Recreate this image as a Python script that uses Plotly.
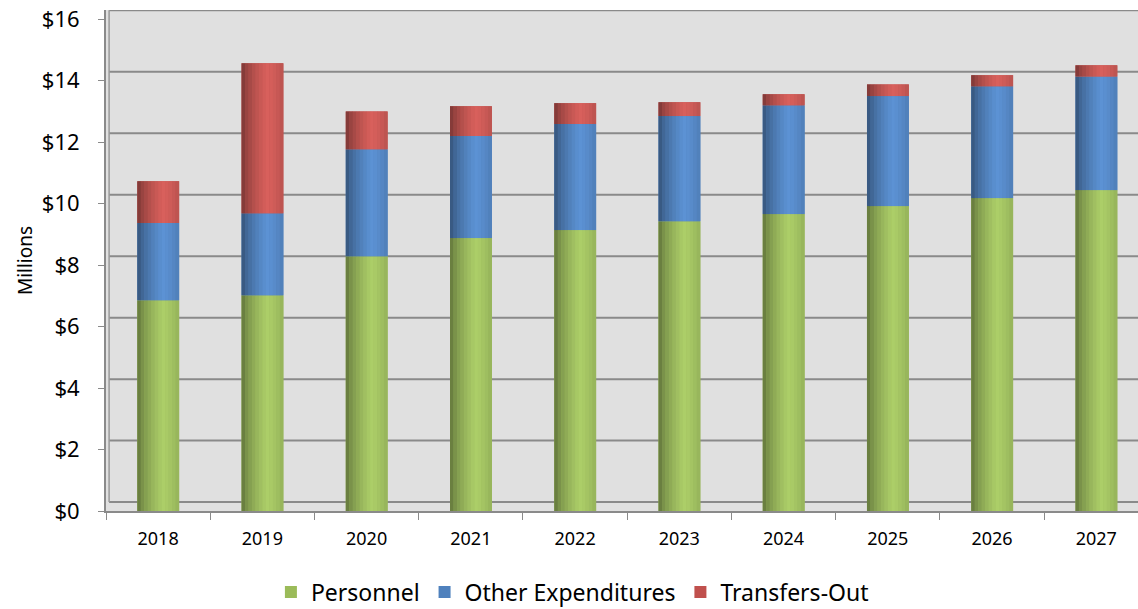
import plotly.graph_objects as go

years = ["2018", "2019", "2020", "2021", "2022", "2023", "2024", "2025", "2026", "2027"]
personnel = [6.86, 7.02, 8.29, 8.88, 9.14, 9.43, 9.66, 9.92, 10.18, 10.44]
other_exp = [2.51, 2.67, 3.48, 3.32, 3.45, 3.42, 3.54, 3.58, 3.64, 3.70]
transfers = [1.36, 4.88, 1.23, 0.97, 0.68, 0.45, 0.36, 0.38, 0.36, 0.36]
y_ticks = [0, 2, 4, 6, 8, 10, 12, 14, 16]

FONT = "Noto Sans"
BAR_W = 0.4
N_STRIPES = 12

# series: name, values, legend colour, highlight rgb
series = [
    ("Personnel", personnel, "#9BBB59", (172, 206, 104)),
    ("Other Expenditures", other_exp, "#4F81BD", (92, 146, 212)),
    ("Transfers-Out", transfers, "#C0504D", (216, 96, 92)),
]

# stacking bases computed from the series values
bases = []
running = [0.0] * len(years)
for _, vals, _, _ in series:
    bases.append(list(running))
    running = [r + v for r, v in zip(running, vals)]


def shade(t):
    # cylinder lighting profile across the bar (0 = left edge, 1 = right edge)
    if t < 0.6:
        return 0.52 + 0.48 * (t / 0.6) ** 0.6
    return 1.0 - 0.14 * ((t - 0.6) / 0.4) ** 1.5


fig = go.Figure()
for (name, vals, col, hi), base in zip(series, bases):
    fig.add_trace(go.Bar(x=years, y=vals, base=base, name=name, width=BAR_W,
                         offset=-BAR_W / 2, marker=dict(color=col, line=dict(width=0)),
                         legendgroup=name, showlegend=True))
    sw = BAR_W / N_STRIPES
    for i in range(N_STRIPES):
        t = (i + 0.5) / N_STRIPES
        f = shade(t)
        c = "rgb(%d,%d,%d)" % tuple(min(255, int(round(ch * f))) for ch in hi)
        fig.add_trace(go.Bar(x=years, y=vals, base=base, width=sw * 1.08,
                             offset=-BAR_W / 2 + i * sw,
                             marker=dict(color=c, line=dict(width=0)),
                             legendgroup=name, showlegend=False, hoverinfo="skip"))

# back-wall gridlines (3D offset look)
shapes = []
for t in y_ticks:
    shapes.append(dict(type="line", xref="paper", yref="y", x0=0.003, x1=1,
                       y0=t + 0.29, y1=t + 0.29,
                       line=dict(color="#8a8a8a", width=2), layer="below"))
shapes.append(dict(type="line", xref="paper", yref="y", x0=0.003, x1=0.003,
                   y0=0.29, y1=16.29, line=dict(color="#9a9a9a", width=1.5), layer="below"))

fig.update_layout(
    barmode="overlay",
    width=1138, height=609,
    margin=dict(l=106, r=0, t=10, b=98),
    paper_bgcolor="white",
    plot_bgcolor="#e0e0e0",
    font=dict(family=FONT, color="#000000"),
    shapes=shapes,
    legend=dict(orientation="h", xref="container", yref="container",
                x=0.503, xanchor="center", y=0.028, yanchor="middle",
                font=dict(size=23, family=FONT), traceorder="normal"),
    xaxis=dict(type="category", range=[-0.5, 9.4], showgrid=False,
               ticks="outside", tickson="boundaries", ticklen=7,
               tickcolor="#8a8a8a", showline=True, linecolor="#8a8a8a", linewidth=2,
               tickfont=dict(size=18, family=FONT), zeroline=False,
               ticklabelstandoff=10),
    yaxis=dict(range=[0, 16.3], tickvals=y_ticks,
               ticktext=["$" + str(v) for v in y_ticks],
               showgrid=False, zeroline=False,
               ticks="outside", ticklen=6, tickcolor="#8a8a8a",
               showline=True, linecolor="#8a8a8a", linewidth=2,
               tickfont=dict(size=22, family=FONT), ticklabelstandoff=14,
               title=dict(text="Millions", font=dict(size=19, family=FONT), standoff=4)),
)

fig.write_html("out.html", config={"displayModeBar": False},
               post_script="document.body.style.margin='0px';")
